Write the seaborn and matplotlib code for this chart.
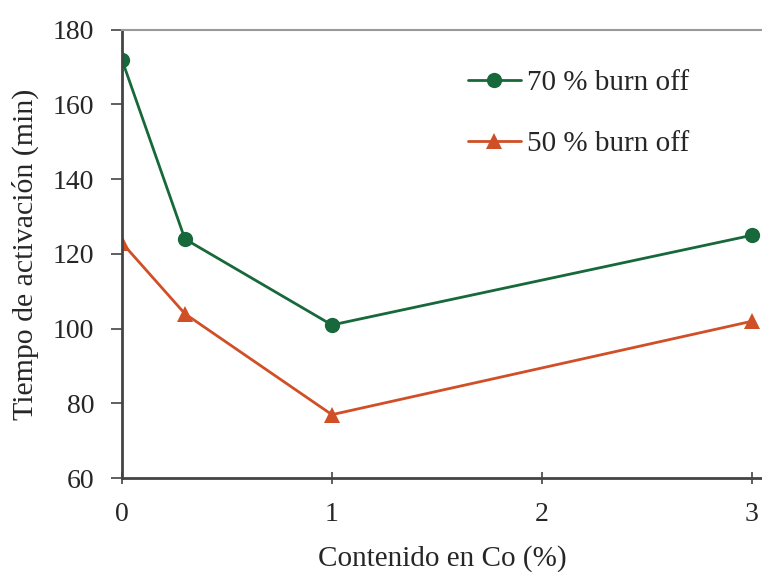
import matplotlib
matplotlib.use('Agg')
import matplotlib.pyplot as plt
import seaborn as sns
import pandas as pd

# datos
co = [0, 0.3, 1, 3]
t70 = [172, 124, 101, 125]
t50 = [123, 104, 77, 102]

sns.set_style('white')
plt.rcParams['font.family'] = ['Liberation Serif', 'DejaVu Serif']

df = pd.DataFrame({'co': co * 2,
                   'tiempo': t70 + t50,
                   'serie': ['70 % burn off'] * 4 + ['50 % burn off'] * 4})

fig = plt.figure(figsize=(7.62, 5.72), dpi=100)
ax = fig.add_axes([0.160, 0.164, 0.84, 0.784])

green = '#17683a'
orange = '#d14f26'
sns.lineplot(data=df, x='co', y='tiempo', hue='serie', style='serie',
             markers={'70 % burn off': 'o', '50 % burn off': '^'}, dashes=False,
             palette={'70 % burn off': green, '50 % burn off': orange},
             markersize=11, markeredgewidth=0, linewidth=2, ax=ax)

ax.set_xlim(0, 3.048)
ax.set_ylim(60, 180)
ax.set_xticks([0, 1, 2, 3])
ax.set_yticks(range(60, 181, 20))
ax.set_xlabel('Contenido en Co (%)', fontsize=21, labelpad=13)
ax.set_ylabel('Tiempo de activación (min)', fontsize=21.5, labelpad=10)
ax.tick_params(axis='both', labelsize=20, length=8, width=1.2, color='#444444',
               bottom=True, left=True)
ax.tick_params(axis='x', direction='inout', pad=13)
ax.tick_params(axis='y', direction='out', pad=12)

for s in ['left', 'bottom']:
    ax.spines[s].set_color('#444444')
    ax.spines[s].set_linewidth(2)
ax.spines['top'].set_color('#999999')
ax.spines['top'].set_linewidth(1.5)
ax.spines['right'].set_visible(False)

ax.legend(loc='upper left', bbox_to_anchor=(0.5, 0.97), frameon=False,
          fontsize=21, handlelength=1.8, handletextpad=0.2, labelspacing=1.2)

fig.savefig('out.png', dpi=100)
